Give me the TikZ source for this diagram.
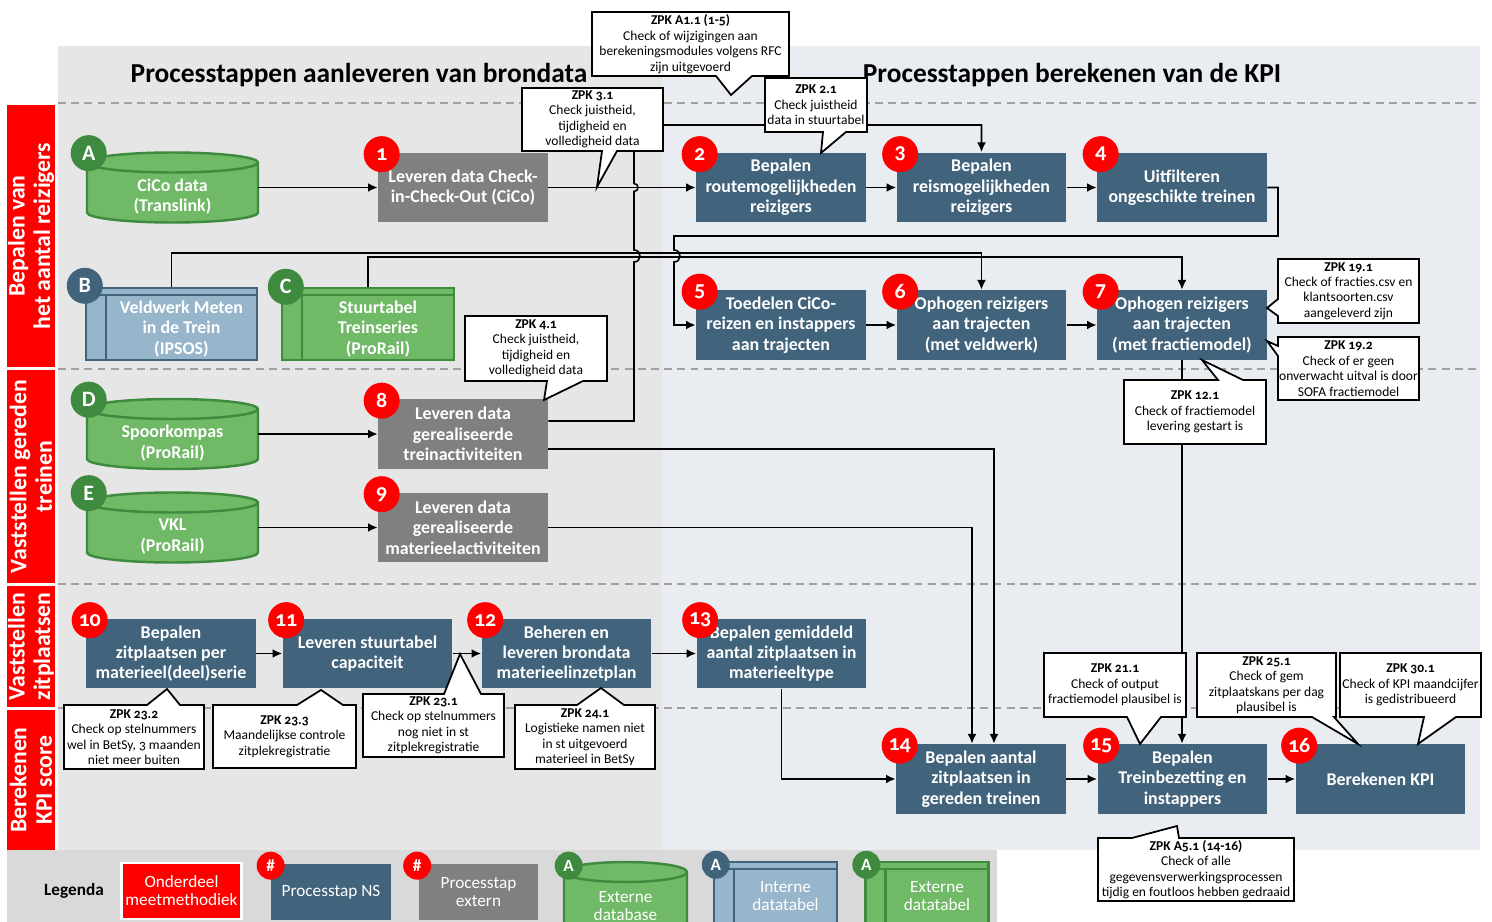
\documentclass[tikz,border=0pt]{standalone}
\usepackage{fontspec}
\setmainfont{Carlito}[Numbers=OldStyle]
\usetikzlibrary{calc,arrows.meta}

\definecolor{nsblue}{RGB}{65,99,123}
\definecolor{extgray}{RGB}{128,128,128}
\definecolor{nsred}{RGB}{255,0,0}
\definecolor{dbfill}{RGB}{112,185,102}
\definecolor{dbline}{RGB}{62,138,62}
\definecolor{dtfill}{RGB}{151,181,203}
\definecolor{leftbg}{RGB}{230,230,230}
\definecolor{rightbg}{RGB}{233,237,242}
\definecolor{legendbg}{RGB}{217,217,217}
\definecolor{lanegray}{RGB}{160,160,160}

\newcommand{\stepfont}{\fontsize{10.2}{11.6}\selectfont\bfseries}
\newcommand{\zpkfont}{\fontsize{7.7}{8.8}\selectfont}
\newcommand{\lanefont}{\fontsize{13.5}{14.5}\selectfont\bfseries}
\newcommand{\ttlfont}{\fontsize{15.6}{18}\selectfont\bfseries}
\newcommand{\badgefont}{\fontsize{12.5}{12.5}\selectfont\bfseries}
\newcommand{\legfont}{\fontsize{9.8}{10.2}\selectfont}

\tikzset{
    nsstep/.style = {
        fill=nsblue, rectangle, align=center, text=white,
        inner sep=0,
        minimum width=3.4cm,
        minimum height=1.4cm,
        font=\stepfont
    },
    extstep/.style = {nsstep, fill=extgray},
    steptext/.style = {align=center, text=white, inner sep=0, font=\stepfont},
    badge/.style = {
        circle, fill=nsred, text=white, inner sep=0, minimum size=0.72cm, font=\badgefont
    },
    letter/.style = {badge, fill=#1},
    smallbadge/.style = {badge, minimum size=0.56cm, font=\legfont\bfseries},
    smallletter/.style = {smallbadge, fill=#1},
    dbshape/.style = {fill=dbfill, draw=dbline, line width=1.4pt},
    dbframe/.style = {rectangle, inner sep=0, minimum height=1.4cm},
    dtframe/.style = {rectangle, inner sep=0, minimum height=1.44cm},
    dtblue/.style = {fill=dtfill, draw=nsblue, line width=1.4pt},
    dtgreen/.style = {fill=dbfill, draw=dbline, line width=1.4pt},
    zpk/.style = {draw=black, fill=white, line width=1pt},
    zpktext/.style = {align=center, inner sep=0, font=\zpkfont},
    conn/.style = {black, line width=0.9pt, >={Latex[length=5.5pt,width=5pt]}},
    lane/.style = {draw=lanegray, line width=0.85pt, dash pattern=on 4.5pt off 3pt},
    sect/.style = {
        fill=nsred, rotate=90, text=white, align=center,
        inner sep=0, minimum height=0.96cm, font=\lanefont
    },
    ttl/.style = {inner sep=0, font=\ttlfont},
    legbox/.style = {
        rectangle, align=center, text=white, inner sep=0,
        minimum width=2.4cm, minimum height=1.12cm, font=\legfont
    },
    hop/.style = {insert path={.. controls +(1.33*#1,0) and +(1.33*#1,0) .. ++(0,2*#1)}},
    hopdown/.style = {insert path={.. controls +(1.33*#1,0) and +(1.33*#1,0) .. ++(0,-2*#1)}}
}

% database cylinder: name, x, y, half width, text style, text
\newcommand{\dbase}[6]{%
  \filldraw[dbshape] (#2-#4,#3+25) -- (#2-#4,#3-25)
    arc[start angle=180, end angle=360, x radius=#4, y radius=10]
    -- (#2+#4,#3+25)
    arc[start angle=0, end angle=180, x radius=#4, y radius=10] -- cycle;
  \draw[dbshape, fill=none] (#2-#4,#3+25)
    arc[start angle=180, end angle=360, x radius=#4, y radius=10];
  \node[dbframe, minimum width=#4*0.04cm] (#1) at (#2,#3) {};
  \node[steptext, #5] (#1-t) at (#2,#3-9) {#6};
}
% data table: name, x, y, half width, colour, text style, text
\newcommand{\dtable}[7]{%
  \node[dtframe, #5, minimum width=#4*0.04cm] (#1) at (#2,#3) {};
  \draw[#5, fill=none] ($(#1.north west)+(0,-8)$) -- ($(#1.north east)+(0,-8)$)
    ($(#1.north west)+(21,-8)$) -- ($(#1.south west)+(21,0)$);
  \node[steptext, #6] (#1-t) at (#2+10,#3-5) {#7};
}

\begin{document}
\begin{tikzpicture}[x=0.02cm, y=0.02cm]

% 0. canvas
\useasboundingbox (0,0) rectangle (1492,-922);
\clip (0,0) rectangle (1492,-922);

% 1. panels and lanes
\fill[leftbg]   (58,-46)  rectangle (662,-850);
\fill[rightbg]  (662,-46) rectangle (1480,-850);
\fill[legendbg] (7,-850)  rectangle (997,-922);
\foreach \y in {-103,-369,-584,-708}
  \draw[lane] (58,\y) -- (1480,\y);

% 2. lane labels and titles
\node[sect, minimum width=5.24cm] (s1) at (31,-236)   {Bepalen van\\het aantal reizigers};
\node[sect, minimum width=4.26cm] (s2) at (31,-476.5) {Vaststellen gereden\\treinen};
\node[sect, minimum width=2.42cm] (s3) at (31,-646.5) {Vaststellen\\zitplaatsen};
\node[sect, minimum width=2.8cm]  (s4) at (31,-780)   {Berekenen\\KPI score};

\node[ttl] (t1) at (359,-75)  {Processtappen aanleveren van brondata};
\node[ttl] (t2) at (1072,-75) {Processtappen berekenen van de KPI};

% 3. data sources
\dbase{dbA}{172.5}{-187.5}{85.5}{}{CiCo data\\(Translink)}
\dbase{dbD}{172.5}{-434}{85.5}{}{Spoorkompas\\(ProRail)}
\dbase{dbE}{172.5}{-527.5}{85.5}{}{VKL\\(ProRail)}
\dtable{dtB}{171.5}{-324}{85.5}{dtblue}{}{Veldwerk Meten\\in de Trein\\(IPSOS)}
\dtable{dtC}{368}{-324}{86}{dtgreen}{}{Stuurtabel\\Treinseries\\(ProRail)}

% 4. process steps
\node[extstep] (b1)  at (463,-187.5)   {Leveren data Check-\\in-Check-Out (CiCo)};
\node[nsstep]  (b2)  at (781,-187.5)   {Bepalen\\routemogelijkheden\\reizigers};
\node[nsstep]  (b3)  at (981.5,-187.5) {Bepalen\\reismogelijkheden\\reizigers};
\node[nsstep]  (b4)  at (1182,-187.5)  {Uitfilteren\\ongeschikte treinen};
\node[nsstep]  (b5)  at (781,-325)     {Toedelen CiCo-\\reizen en instappers\\aan trajecten};
\node[nsstep]  (b6)  at (981.5,-325)   {Ophogen reizigers\\aan trajecten\\(met veldwerk)};
\node[nsstep]  (b7)  at (1182,-325)    {Ophogen reizigers\\aan trajecten\\(met fractiemodel)};
\node[extstep] (b8)  at (463,-434)     {Leveren data\\gerealiseerde\\treinactiviteiten};
\node[extstep] (b9)  at (463,-527.5)   {Leveren data\\gerealiseerde\\materieelactiviteiten};
\node[nsstep]  (b10) at (171,-653.5)   {Bepalen\\zitplaatsen per\\materieel(deel)serie};
\node[nsstep]  (b11) at (367.5,-653.5) {Leveren stuurtabel\\capaciteit};
\node[nsstep]  (b12) at (566.5,-653.5) {Beheren en\\leveren brondata\\materieelinzetplan};
\node[nsstep]  (b13) at (781.5,-653.5) {Bepalen gemiddeld\\aantal zitplaatsen in\\materieeltype};
\node[nsstep]  (b14) at (981,-779)     {Bepalen aantal\\zitplaatsen in\\gereden treinen};
\node[nsstep]  (b15) at (1182.5,-779)  {Bepalen\\Treinbezetting en\\instappers};
\node[nsstep]  (b16) at (1380.5,-779)  {Berekenen KPI};

% 5. connectors
\coordinate (r4) at (1278,-236);
\coordinate (l5) at (674,-236);
\coordinate (x8) at (634,-421);
\coordinate (t3) at (634,-125);

\draw[conn,->] (dbA) -- (b1);
\draw[conn,->] (dbD) -- (b8);
\draw[conn,->] (dbE) -- (b9);
\draw[conn,->] (b1) -- (b2);
\draw[conn,->] (b2) -- (b3);
\draw[conn,->] (b3) -- (b4);
\draw[conn,->] (b5) -- (b6);
\draw[conn,->] (b6) -- (b7);
\draw[conn,->] (dtB.north) -- ++(0,34) -| (b6.north);
\draw[conn,->] (dtC.north) -- ++(0,30) -| (b7.north);
\draw[conn,->] (b4.east) -| (r4) -- (l5) -- ++(0,-14) [hopdown=6] |- (b5.west);
\draw[conn,->] ($(b8.east)+(0,13)$) -- (x8) -- ++(0,159) [hop=6]
  -- ++(0,58.5) [hop=4] -- (t3) -| (b3.north);
\draw[conn,->] ($(b8.east)+(0,-15)$) -| ($(b14.north)+(13,0)$);
\draw[conn,->] (b9.east) -| ($(b14.north)+(-9,0)$);
\draw[conn,->] (b10) -- (b11);
\draw[conn,->] (b11) -- (b12);
\draw[conn,->] (b12) -- (b13);
\draw[conn,->] (b13.south) |- (b14.west);
\draw[conn,->] (b14) -- (b15);
\draw[conn,->] (b15) -- (b16);
\draw[conn,->] (b7.south) -- (b7.south |- b15.north);

% 6. badges
\foreach \i in {1,...,16}
  \node[badge] (n\i) at ([shift={(4,-2)}]b\i.north west) {\i};
\node[letter=dbline] (lA) at ([shift={(2,-1)}]dbA.north west) {A};
\node[letter=nsblue] (lB) at ([shift={(0,1)}]dtB.north west) {B};
\node[letter=dbline] (lC) at ([shift={(5,0)}]dtC.north west) {C};
\node[letter=dbline] (lD) at ([shift={(2,-1)}]dbD.north west) {D};
\node[letter=dbline] (lE) at ([shift={(2,-1)}]dbE.north west) {E};

% 7. quality checks (ZPK)
\draw[zpk] (592,-12) -- (789,-12) -- (789,-76) -- (752,-76) -- (731,-95) -- (716,-76) -- (592,-76) -- cycle;
\node[zpktext] (zA11) at (690.5,-44) {\textbf{ZPK A1.1 (1-5)}\\Check of wijzigingen aan\\berekeningsmodules volgens RFC\\zijn uitgevoerd};
\draw[zpk] (522,-88) -- (663,-88) -- (663,-151) -- (617,-151) -- (597,-187) -- (602,-151) -- (522,-151) -- cycle;
\node[zpktext] (z31) at (592.5,-119.5) {\textbf{ZPK 3.1}\\Check juistheid,\\tijdigheid en\\volledigheid data};
\draw[zpk] (765,-78) -- (867,-78) -- (867,-132) -- (846,-132) -- (821,-153) -- (823,-132) -- (765,-132) -- cycle;
\node[zpktext] (z21) at (816,-105) {\textbf{ZPK 2.1}\\Check juistheid\\data in stuurtabel};
\draw[zpk] (465,-316) -- (607,-316) -- (607,-381) -- (583,-381) -- (544,-400) -- (547,-381) -- (465,-381) -- cycle;
\node[zpktext] (z41) at (536,-348.5) {\textbf{ZPK 4.1}\\Check juistheid,\\tijdigheid en\\volledigheid data};
\draw[zpk] (1278,-259) -- (1419,-259) -- (1419,-323) -- (1278,-323) -- (1278,-316) -- (1267,-308) -- (1278,-299) -- cycle;
\node[zpktext] (z191) at (1348.5,-291) {\textbf{ZPK 19.1}\\Check of fracties.csv en\\klantsoorten.csv\\aangeleverd zijn};
\draw[zpk] (1278,-337) -- (1419,-337) -- (1419,-400) -- (1278,-400) -- (1278,-356) -- (1267,-341) -- (1278,-346) -- cycle;
\node[zpktext] (z192) at (1348.5,-368.5) {\textbf{ZPK 19.2}\\Check of er geen\\onverwacht uitval is door\\SOFA fractiemodel};
\draw[zpk] (1124,-380) -- (1218,-380) -- (1202,-360) -- (1243,-380) -- (1266,-380) -- (1266,-444) -- (1124,-444) -- cycle;
\node[zpktext] (z121) at (1195,-412) {\textbf{ZPK 12.1}\\Check of fractiemodel\\levering gestart is};
\draw[zpk] (64,-705) -- (147,-705) -- (167,-689) -- (180,-705) -- (204,-705) -- (204,-769) -- (64,-769) -- cycle;
\node[zpktext] (z232) at (134,-737) {\textbf{ZPK 23.2}\\Check op stelnummers\\wel in BetSy, 3 maanden\\niet meer buiten};
\draw[zpk] (213,-705) -- (297,-705) -- (321,-690) -- (343,-705) -- (356,-705) -- (356,-768) -- (213,-768) -- cycle;
\node[zpktext] (z233) at (284.5,-736.5) {\textbf{ZPK 23.3}\\Maandelijkse controle\\zitplekregistratie};
\draw[zpk] (363,-694) -- (444,-694) -- (460,-654) -- (481,-694) -- (504,-694) -- (504,-757) -- (363,-757) -- cycle;
\node[zpktext] (z231) at (433.5,-725.5) {\textbf{ZPK 23.1}\\Check op stelnummers\\nog niet in st\\zitplekregistratie};
\draw[zpk] (515,-705) -- (577,-705) -- (601,-688) -- (624,-705) -- (655,-705) -- (655,-769) -- (515,-769) -- cycle;
\node[zpktext] (z241) at (585,-737) {\textbf{ZPK 24.1}\\Logistieke namen niet\\in st uitgevoerd\\materieel in BetSy};
\draw[zpk] (1044,-653) -- (1186,-653) -- (1186,-717) -- (1161,-717) -- (1140,-744) -- (1127,-717) -- (1044,-717) -- cycle;
\node[zpktext] (z211) at (1115,-685) {\textbf{ZPK 21.1}\\Check of output\\fractiemodel plausibel is};
\draw[zpk] (1197,-653) -- (1336,-653) -- (1336,-717) -- (1334,-717) -- (1358,-744) -- (1312,-717) -- (1197,-717) -- cycle;
\node[zpktext] (z251) at (1266.5,-685) {\textbf{ZPK 25.1}\\Check of gem\\zitplaatskans per dag\\plausibel is};
\draw[zpk] (1340,-653) -- (1481,-653) -- (1481,-717) -- (1456,-717) -- (1418,-744) -- (1424,-717) -- (1340,-717) -- cycle;
\node[zpktext] (z301) at (1410.5,-685) {\textbf{ZPK 30.1}\\Check of KPI maandcijfer\\is gedistribueerd};
\draw[zpk] (1098,-838) -- (1132,-838) -- (1177,-826) -- (1179,-838) -- (1294,-838) -- (1294,-901) -- (1098,-901) -- cycle;
\node[zpktext] (zA51) at (1196,-869.5) {\textbf{ZPK A5.1 (14-16)}\\Check of alle\\gegevensverwerkingsprocessen\\tijdig en foutloos hebben gedraaid};

% 8. legend
\node[font=\legfont\bfseries] (lg) at (74,-891) {Legenda};
\node[legbox, fill=nsred, draw=white, line width=1.2pt] (lg1) at (181.5,-891) {Onderdeel\\meetmethodiek};
\node[legbox, fill=nsblue]  (lg2) at (331,-892)   {Processtap NS};
\node[legbox, fill=extgray] (lg3) at (478.5,-892) {Processtap\\extern};
\dbase{lg4}{625.5}{-897}{61.5}{font=\legfont}{Externe\\database}
\dtable{lg5}{775.5}{-898}{61.5}{dtblue}{font=\legfont, yshift=0.14cm}{Interne\\datatabel}
\dtable{lg6}{927}{-898}{61.5}{dtgreen}{font=\legfont, yshift=0.14cm}{Externe\\datatabel}
\node[smallbadge] (lg2n) at ([shift={(0,-2)}]lg2.north west) {\#};
\node[smallbadge] (lg3n) at ([shift={(-1,-2)}]lg3.north west) {\#};
\node[smallletter=dbline] (lg4a) at ([shift={(5,-4)}]lg4.north west) {A};
\node[smallletter=nsblue] (lg5a) at ([shift={(3,-4)}]lg5.north west) {A};
\node[smallletter=dbline] (lg6a) at ([shift={(2,-4)}]lg6.north west) {A};

\end{tikzpicture}
\end{document}
